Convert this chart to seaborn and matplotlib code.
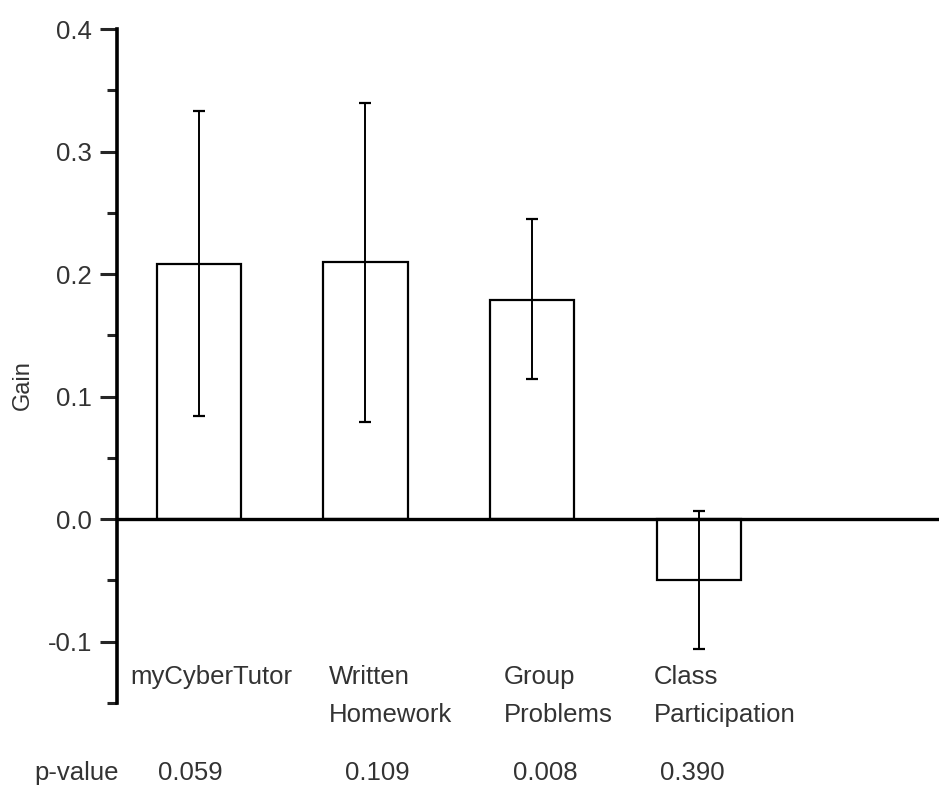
import matplotlib
matplotlib.use("Agg")
import matplotlib.pyplot as plt
import seaborn as sns
import pandas as pd
from matplotlib.ticker import MultipleLocator

# values
categories = ["myCyberTutor", "Written\nHomework", "Group\nProblems", "Class\nParticipation"]
gain = [0.208, 0.210, 0.179, -0.050]
err_low = [0.084, 0.079, 0.114, -0.106]
err_high = [0.333, 0.340, 0.245, 0.007]
p_values = ["0.059", "0.109", "0.008", "0.390"]

df = pd.DataFrame({"category": categories, "gain": gain})

sns.set_style("white")
plt.rcParams["font.family"] = ["Liberation Sans", "DejaVu Sans"]
text_color = "#333333"

fig = plt.figure(figsize=(9.39, 7.89), dpi=100)
ax = fig.add_axes([0.1246, 0.109, 0.8754, 0.8542])

sns.barplot(data=df, x="category", y="gain", color="white", edgecolor="black",
            linewidth=1.6, width=0.505, ax=ax)

# asymmetric error bars
lower = [g - lo for g, lo in zip(gain, err_low)]
upper = [hi - g for g, hi in zip(gain, err_high)]
ax.errorbar(range(len(categories)), gain, yerr=[lower, upper], fmt="none",
            ecolor="black", elinewidth=1.4, capsize=4.5, capthick=1.6, zorder=3)

ax.axhline(0, color="black", lw=2.4, zorder=4)

ax.set_xlim(-0.49, 4.44)
ax.set_ylim(-0.15, 0.4)
ax.yaxis.set_major_locator(MultipleLocator(0.1))
ax.yaxis.set_minor_locator(MultipleLocator(0.05))
ax.yaxis.set_major_formatter(matplotlib.ticker.FormatStrFormatter("%.1f"))
ax.tick_params(axis="y", which="major", direction="out", length=12, width=2.2,
               labelsize=18.5, labelcolor=text_color, pad=6, left=True)
ax.tick_params(axis="y", which="minor", direction="out", length=7, width=2.2, left=True)
ax.set_xticks([])
ax.set_xlabel("")
ax.set_ylabel("")
for s in ["top", "right", "bottom"]:
    ax.spines[s].set_visible(False)
ax.spines["left"].set_linewidth(2.6)
ax.spines["left"].set_color("black")

# category names under the bars
label_dx = [-0.41, -0.22, -0.17, -0.27]
for i, (name, dx) in enumerate(zip(categories, label_dx)):
    ax.text(i + dx, -0.119, name, ha="left", va="top", fontsize=18.5,
            color=text_color, linespacing=1.75, clip_on=False)

# p-value row
p_dx = [-0.05, 0.07, 0.08, -0.04]
ax.text(-0.73, -0.207, "p-value", ha="center", va="center", fontsize=18.5,
        color=text_color, clip_on=False)
for i, (pv, dx) in enumerate(zip(p_values, p_dx)):
    ax.text(i + dx, -0.207, pv, ha="center", va="center", fontsize=18.5,
            color=text_color, clip_on=False)

fig.text(23 / 939, 1 - 385 / 789, "Gain", rotation=90, ha="center", va="center",
         fontsize=17, color=text_color)

fig.savefig("out.png", dpi=100)
